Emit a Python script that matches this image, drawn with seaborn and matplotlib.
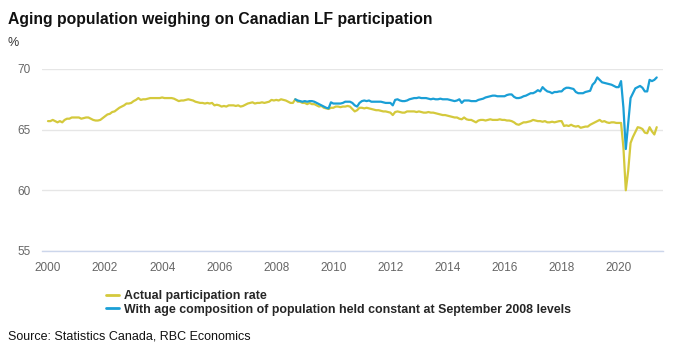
import matplotlib
matplotlib.use("Agg")
import matplotlib.pyplot as plt
import numpy as np
import pandas as pd
import seaborn as sns

# monthly values, Jan 2000 - May 2021 (actual) / Sep 2008 - May 2021 (constant age mix)
actual_2000_2021 = [
    65.7, 65.7, 65.8, 65.7, 65.6, 65.7, 65.6, 65.8, 65.9, 65.9, 66.0, 66.0,      # 2000
    66.0, 66.0, 65.9, 65.95, 66.0, 66.0, 65.9, 65.8, 65.75, 65.75, 65.8, 65.95,  # 2001
    66.1, 66.25, 66.3, 66.45, 66.5, 66.65, 66.8, 66.9, 67.0, 67.15, 67.15, 67.2,  # 2002
    67.35, 67.45, 67.6, 67.45, 67.5, 67.5, 67.55, 67.6, 67.6, 67.6, 67.6, 67.6,   # 2003
    67.65, 67.6, 67.6, 67.6, 67.6, 67.55, 67.45, 67.35, 67.4, 67.4, 67.45, 67.5,  # 2004
    67.45, 67.4, 67.3, 67.25, 67.2, 67.2, 67.15, 67.2, 67.15, 67.2, 67.0, 67.05,  # 2005
    67.0, 66.9, 66.95, 66.9, 67.0, 67.0, 67.0, 66.95, 67.0, 66.9, 66.95, 67.05,   # 2006
    67.15, 67.2, 67.25, 67.15, 67.2, 67.2, 67.25, 67.2, 67.25, 67.3, 67.45, 67.4, # 2007
    67.45, 67.4, 67.5, 67.45, 67.4, 67.3, 67.2, 67.2, 67.5, 67.3, 67.3, 67.2,     # 2008
    67.2, 67.1, 67.2, 67.1, 67.1, 67.0, 66.9, 66.95, 66.8, 66.75, 66.7, 66.8,     # 2009
    66.8, 66.9, 66.9, 66.85, 66.9, 66.9, 66.95, 66.9, 66.7, 66.5, 66.6, 66.8,     # 2010
    66.8, 66.75, 66.8, 66.75, 66.7, 66.65, 66.6, 66.6, 66.55, 66.5, 66.5, 66.45,  # 2011
    66.4, 66.2, 66.45, 66.5, 66.45, 66.4, 66.4, 66.5, 66.5, 66.5, 66.5, 66.45,    # 2012
    66.5, 66.45, 66.4, 66.4, 66.45, 66.4, 66.4, 66.35, 66.3, 66.25, 66.2, 66.2,   # 2013
    66.15, 66.1, 66.05, 66.0, 66.0, 65.9, 65.85, 66.0, 65.85, 65.8, 65.8, 65.7,   # 2014
    65.6, 65.75, 65.8, 65.8, 65.75, 65.8, 65.85, 65.8, 65.8, 65.8, 65.85, 65.8,   # 2015
    65.8, 65.75, 65.75, 65.7, 65.6, 65.45, 65.4, 65.5, 65.6, 65.6, 65.65, 65.7,   # 2016
    65.8, 65.75, 65.7, 65.7, 65.65, 65.7, 65.6, 65.6, 65.65, 65.6, 65.65, 65.7,   # 2017
    65.7, 65.3, 65.35, 65.3, 65.4, 65.3, 65.25, 65.3, 65.15, 65.2, 65.25, 65.25,  # 2018
    65.4, 65.5, 65.6, 65.7, 65.8, 65.65, 65.7, 65.6, 65.55, 65.6, 65.6, 65.55,    # 2019
    65.55, 65.55, 63.5, 60.0, 61.6, 63.9, 64.4, 64.8, 65.2, 65.15, 65.05, 64.75,  # 2020
    64.7, 65.2, 64.85, 64.6, 65.2,                                                 # 2021
]

constant_2008_2021 = [
    67.5, 67.4, 67.35, 67.3,                                                        # 2008 Sep-Dec
    67.35, 67.3, 67.35, 67.35, 67.3, 67.2, 67.1, 67.0, 66.9, 66.8, 66.75, 67.25,   # 2009
    67.15, 67.15, 67.15, 67.15, 67.2, 67.3, 67.3, 67.3, 67.2, 67.0, 66.9, 67.2,    # 2010
    67.35, 67.4, 67.35, 67.4, 67.3, 67.3, 67.3, 67.3, 67.3, 67.25, 67.2, 67.2,     # 2011
    67.2, 67.0, 67.45, 67.5, 67.4, 67.35, 67.35, 67.4, 67.5, 67.55, 67.6, 67.6,    # 2012
    67.65, 67.6, 67.6, 67.6, 67.55, 67.5, 67.55, 67.5, 67.5, 67.55, 67.5, 67.5,    # 2013
    67.5, 67.45, 67.4, 67.35, 67.4, 67.5, 67.2, 67.4, 67.4, 67.4, 67.35, 67.35,    # 2014
    67.35, 67.45, 67.5, 67.55, 67.65, 67.7, 67.75, 67.8, 67.8, 67.75, 67.75, 67.75, # 2015
    67.75, 67.85, 67.9, 67.9, 67.7, 67.6, 67.6, 67.65, 67.75, 67.8, 67.9, 68.0,    # 2016
    68.0, 68.1, 68.25, 68.15, 68.5, 68.3, 68.15, 68.1, 68.0, 68.1, 68.1, 68.15,    # 2017
    68.15, 68.35, 68.45, 68.45, 68.4, 68.35, 68.1, 68.0, 68.0, 68.0, 68.1, 68.15,  # 2018
    68.2, 68.7, 68.9, 69.3, 69.1, 68.9, 68.85, 68.8, 68.75, 68.7, 68.6, 68.5,      # 2019
    68.5, 69.0, 66.8, 63.4, 65.5, 67.6, 68.0, 68.4, 68.5, 68.6, 68.45, 68.15,      # 2020
    68.15, 69.1, 69.0, 69.1, 69.3,                                                  # 2021
]

year_ticks = [2000, 2002, 2004, 2006, 2008, 2010, 2012, 2014, 2016, 2018, 2020]
y_ticks = [55, 60, 65, 70]

label_actual = "Actual participation rate"
label_const = "With age composition of population held constant at September 2008 levels"

dates_a = pd.date_range("2000-01-01", periods=len(actual_2000_2021), freq="MS")
dates_c = pd.date_range("2008-09-01", periods=len(constant_2008_2021), freq="MS")


def dec_year(d):
    return d.year + (d.month - 1) / 12.0


df = pd.concat([
    pd.DataFrame({"t": dec_year(dates_a), "rate": actual_2000_2021, "series": label_actual}),
    pd.DataFrame({"t": dec_year(dates_c), "rate": constant_2008_2021, "series": label_const}),
])

sns.set_theme(style="white")
plt.rcParams["font.family"] = ["Liberation Sans", "DejaVu Sans"]

YELLOW = "#d4c93c"
BLUE = "#1a9fd6"

fig = plt.figure(figsize=(7, 3.5), dpi=100)
ax = fig.add_axes([0.06, 0.283, 0.887, 0.52])

sns.lineplot(data=df, x="t", y="rate", hue="series",
             palette={label_actual: YELLOW, label_const: BLUE},
             linewidth=1.6, ax=ax, legend=False)

ax.set_xlim(1999.79, 2021.55)
ax.set_ylim(55, 70)
ax.set_yticks(y_ticks)
ax.set_xticks(year_ticks)
ax.set_xticklabels([str(y) for y in year_ticks])
ax.set_xlabel("")
ax.set_ylabel("")
ax.grid(axis="y", color="#e6e6e6", linewidth=1)
ax.set_axisbelow(True)
for s in ["top", "right", "left"]:
    ax.spines[s].set_visible(False)
ax.spines["bottom"].set_color("#ccd6eb")
ax.spines["bottom"].set_linewidth(1)
ax.tick_params(axis="x", colors="#666666", labelsize=8.5, length=7,
               width=1, direction="out", pad=1)
ax.tick_params(axis="x", color="#ccd6eb")
ax.tick_params(axis="y", colors="#666666", labelsize=8.5, length=0, pad=8)

fig.text(0.011, 0.945, "Aging population weighing on Canadian LF participation",
         fontsize=11.3, fontweight="bold", color="#111111", va="center")
fig.text(0.011, 0.878, "%", fontsize=9, color="#333333", va="center")

handles = [plt.Line2D([], [], color=YELLOW, lw=2),
           plt.Line2D([], [], color=BLUE, lw=2)]
fig.legend(handles, [label_actual, label_const], loc="upper left",
           bbox_to_anchor=(0.152, 0.17), frameon=False, handlelength=1.0,
           handletextpad=0.4, labelspacing=0.1, borderaxespad=0, borderpad=0,
           prop={"weight": "bold", "size": 8.9})

fig.text(0.011, 0.038, "Source: Statistics Canada, RBC Economics",
         fontsize=9, color="#111111", va="center")

fig.savefig("out.png", dpi=100)
